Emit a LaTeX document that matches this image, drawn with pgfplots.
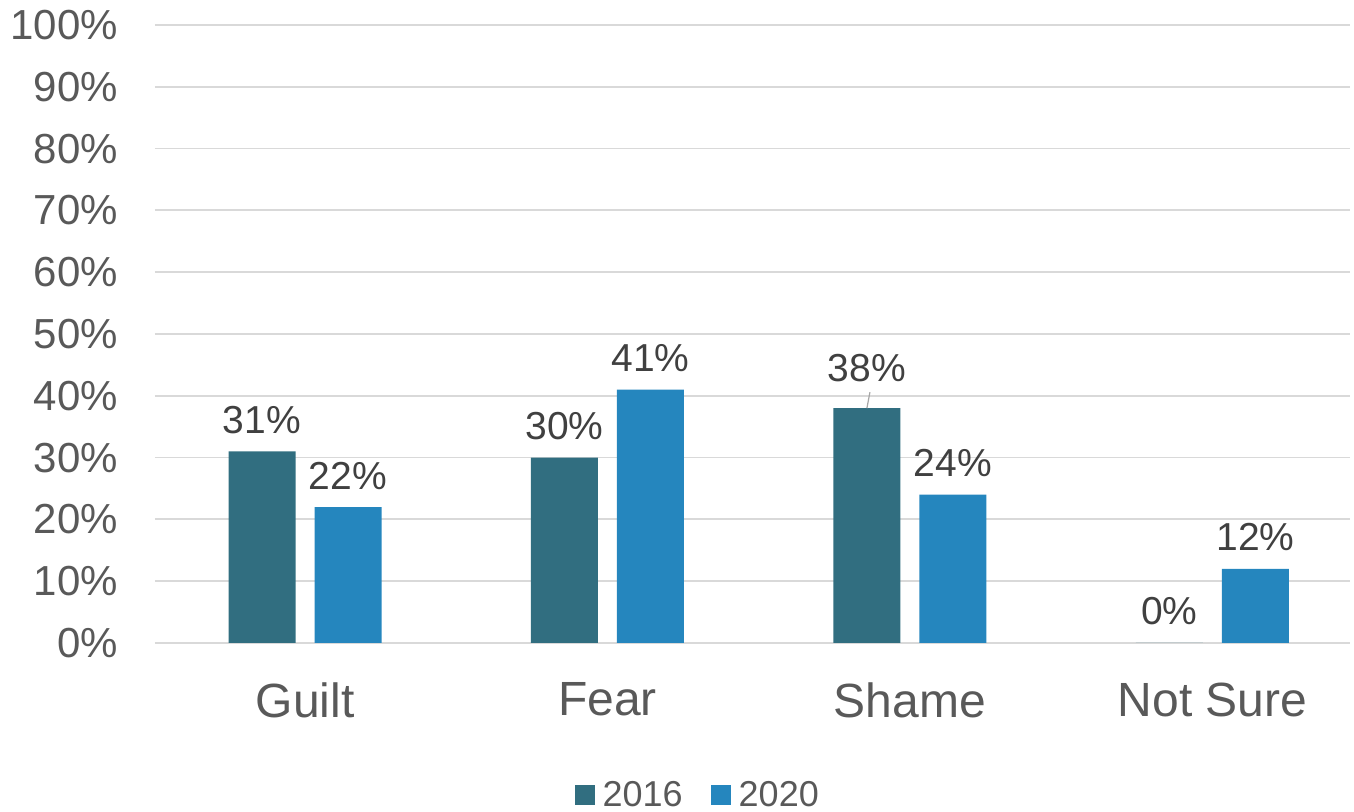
\documentclass[border=0pt]{standalone}
\usepackage{fontspec}
\setmainfont{Liberation Sans}
\usepackage{pgfplots}
\pgfplotsset{compat=1.18}
\definecolor{barA}{HTML}{316E80}
\definecolor{barB}{HTML}{2586BE}
\definecolor{txt}{HTML}{595959}
\definecolor{lbl}{HTML}{404040}
\definecolor{gridc}{HTML}{D9D9D9}

\begin{document}
\begin{tikzpicture}
\begin{axis}[
    name=main,
    scale only axis,
    width=597.5pt, height=309pt,
    ybar=9.5pt, bar width=33.5pt,
    xmin=-0.496, xmax=3.455,
    ymin=0, ymax=100,
    xtick={0,1,2,3},
    xticklabels={Guilt,Fear,Shame,Not Sure},
    ytick={0,10,...,100},
    yticklabel={\pgfmathprintnumber{\tick}\%},
    /pgf/number format/assume math mode=true,
    axis line style={draw=none},
    tick style={draw=none},
    ymajorgrids=true,
    major grid style={draw=gridc, line width=0.9pt},
    yticklabel style={font=\fontsize{21}{24}\selectfont, text=txt, xshift=-15pt},
    xticklabel style={font=\fontsize{24}{28}\selectfont, text=txt, yshift=-12pt},
    nodes near coords={\pgfmathprintnumber{\pgfplotspointmeta}\%},
    every node near coord/.append style={font=\fontsize{19.5}{22}\selectfont,
        text=lbl, anchor=base, yshift=9pt},
    legend style={at={(axis description cs:0.455,-0.246)}, anchor=center,
        draw=none, fill=none, font=\fontsize{18}{20}\selectfont, text=txt,
        legend columns=-1,
        /tikz/every even column/.append style={column sep=12pt}},
    legend image code/.code={\fill[#1] (0pt,-5pt) rectangle (10pt,5pt);},
]
\addplot[fill=barA, draw=none,
    coordinate style/.condition={x==2}{yshift=4.5pt}]
    coordinates {(0,31) (1,30) (2,38) (3,0)};
\addplot[fill=barB, draw=none] coordinates {(0,22) (1,41) (2,24) (3,12)};
\legend{\hspace{2pt}2016,\hspace{2pt}2020}
\draw[gray!70, line width=0.6pt] ([xshift=-21.5pt]axis cs:2,38) -- ([xshift=-20pt,yshift=8pt]axis cs:2,38);
\end{axis}
\pgfresetboundingbox
\useasboundingbox ([xshift=-77.5pt,yshift=-84.5pt]main.south west) rectangle ([xshift=2pt,yshift=12.5pt]main.north east);
\end{tikzpicture}
\end{document}
